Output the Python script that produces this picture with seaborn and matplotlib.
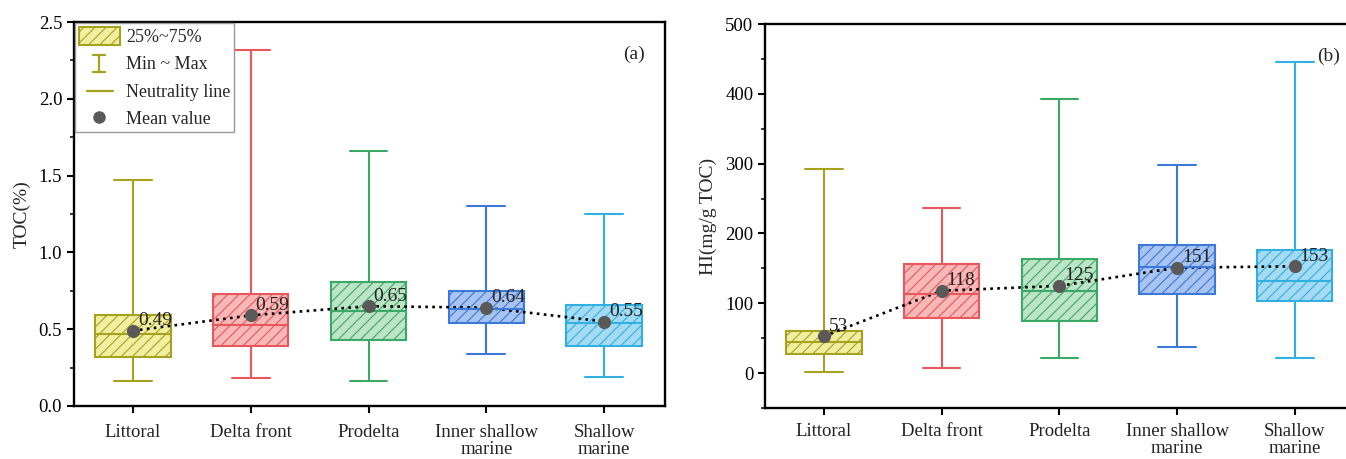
import numpy as np
import pandas as pd
import matplotlib
matplotlib.use("Agg")
import matplotlib.pyplot as plt
import seaborn as sns
from matplotlib.patches import Patch
from matplotlib.lines import Line2D
from matplotlib.legend_handler import HandlerBase
from matplotlib.ticker import MultipleLocator

# ---- data -------------------------------------------------------------
categories = ["Littoral", "Delta front", "Prodelta", "Inner shallow\nmarine", "Shallow\nmarine"]

toc_min = [0.16, 0.18, 0.16, 0.34, 0.19]
toc_q1 = [0.32, 0.39, 0.43, 0.54, 0.39]
toc_median = [0.47, 0.53, 0.62, 0.63, 0.54]
toc_q3 = [0.59, 0.73, 0.81, 0.75, 0.66]
toc_max = [1.47, 2.32, 1.66, 1.30, 1.25]
toc_mean = [0.49, 0.59, 0.65, 0.64, 0.55]

hi_min = [2, 7, 21, 38, 22]
hi_q1 = [27, 79, 75, 113, 103]
hi_median = [45, 114, 118, 152, 132]
hi_q3 = [61, 156, 163, 184, 176]
hi_max = [293, 237, 392, 298, 446]
hi_mean = [53, 118, 125, 151, 153]

edge_colors = ["#a6a21e", "#e8575b", "#3aa965", "#3a79d8", "#31afe0"]
fill_colors = ["#f1eea2", "#f8b8b8", "#bde4c7", "#a8c3f0", "#a4dbf3"]

sns.set_theme(style="ticks")
plt.rcParams["font.family"] = ["Liberation Serif", "DejaVu Serif"]
plt.rcParams["hatch.linewidth"] = 0.8
plt.rcParams["axes.linewidth"] = 1.6


def five_number_frame(mins, q1s, meds, q3s, maxs):
    # five sorted values per group: their 0/25/50/75/100 percentiles are the box statistics
    rows = []
    for cat, a, b, c, d, e in zip(categories, mins, q1s, meds, q3s, maxs):
        for v in (a, b, c, d, e):
            rows.append({"category": cat, "value": v})
    return pd.DataFrame(rows)


class MinMaxHandler(HandlerBase):
    def create_artists(self, legend, orig_handle, xdescent, ydescent,
                       width, height, fontsize, trans):
        cx = width / 2 - xdescent
        y0 = -ydescent + height * 0.02
        y1 = -ydescent + height * 0.92
        hw = width * 0.14
        col = orig_handle.get_color()
        kw = dict(color=col, lw=1.6, transform=trans)
        return [Line2D([cx, cx], [y0, y1], **kw),
                Line2D([cx - hw, cx + hw], [y0, y0], **kw),
                Line2D([cx - hw, cx + hw], [y1, y1], **kw)]


class ShortLineHandler(HandlerBase):
    def create_artists(self, legend, orig_handle, xdescent, ydescent,
                       width, height, fontsize, trans):
        cy = height / 2 - ydescent
        return [Line2D([width * 0.2 - xdescent, width * 0.82 - xdescent], [cy, cy],
                       color=orig_handle.get_color(), lw=1.6, transform=trans)]


def draw_panel(ax, mins, q1s, meds, q3s, maxs, means, fmt, xpad):
    df = five_number_frame(mins, q1s, meds, q3s, maxs)
    for cat, fc, ec in zip(categories, fill_colors, edge_colors):
        sub = df[df["category"] == cat]
        sns.boxplot(data=sub, x="category", y="value", order=categories,
                    color=fc, linecolor=ec, saturation=1, width=0.64,
                    whis=(0, 100), linewidth=1.5, showfliers=False, ax=ax,
                    boxprops=dict(hatch="///"))
    for patch, ec in zip(ax.patches, edge_colors):
        patch.set_edgecolor(ec)
        try:
            patch.set_hatchcolor(ec)
        except AttributeError:
            pass
    # dotted line joining the group means, then the mean markers
    sns.pointplot(x=categories, y=means, order=categories, color="black",
                  linestyles=":", markers="none", errorbar=None, ax=ax,
                  linewidth=1.9)
    sns.stripplot(x=categories, y=means, order=categories, color="#595959",
                  jitter=False, size=9.5, ax=ax, zorder=6)
    for i, m in enumerate(means):
        ax.annotate(fmt.format(m), xy=(i, m), xytext=(3.5, 4),
                    textcoords="offset points", fontsize=14,
                    ha="left", va="baseline", color="#222222", zorder=7)
    ax.set_xlim(-0.5, 4.52)
    ax.set_xlabel("")
    for s in ax.spines.values():
        s.set_visible(True)
        s.set_color("black")
        s.set_linewidth(1.7)
    ax.tick_params(axis="both", which="major", direction="out", length=5,
                   width=1.5, labelsize=13.5, colors="black")
    ax.tick_params(axis="x", pad=xpad)
    ax.tick_params(axis="y", which="minor", direction="out", length=3, width=1.3)
    ax.tick_params(axis="x", labelcolor="#222222")
    for lab in ax.get_xticklabels():
        lab.set_linespacing(1.0)


fig = plt.figure(figsize=(13.46, 4.59), dpi=100)
ax1 = fig.add_axes([0.055, 0.1155, 0.4393, 0.8365])
ax2 = fig.add_axes([0.5684, 0.111, 0.439, 0.8367])

draw_panel(ax1, toc_min, toc_q1, toc_median, toc_q3, toc_max, toc_mean, "{:.2f}", 8)
ax1.set_ylim(0, 2.5)
ax1.yaxis.set_major_locator(MultipleLocator(0.5))
ax1.yaxis.set_minor_locator(MultipleLocator(0.25))
ax1.set_ylabel("TOC(%)", fontsize=14, labelpad=6)
ax1.text(0.965, 0.905, "(a)", transform=ax1.transAxes, fontsize=14,
         ha="right", va="baseline")

draw_panel(ax2, hi_min, hi_q1, hi_median, hi_q3, hi_max, hi_mean, "{:.0f}", 6)
ax2.set_ylim(-50, 500)
ax2.set_yticks([0, 100, 200, 300, 400, 500])
ax2.yaxis.set_minor_locator(MultipleLocator(50))
ax2.set_ylabel("HI(mg/g TOC)", fontsize=14, labelpad=6)
ax2.text(0.973, 0.905, "(b)", transform=ax2.transAxes, fontsize=14,
         ha="right", va="baseline")

olive = edge_colors[0]
handles = [
    Patch(facecolor=fill_colors[0], edgecolor=olive, hatch="///", linewidth=1.5),
    Line2D([], [], color=olive),
    Line2D([], [], color=olive),
    Line2D([], [], linestyle="none", marker="o", markersize=8,
           color="#595959"),
]
labels = ["25%~75%", "Min ~ Max", "Neutrality line", "Mean value"]
leg = ax1.legend(handles, labels, loc="upper left", borderaxespad=0.05,
                 fontsize=13, frameon=True, fancybox=False,
                 edgecolor="#999999", framealpha=1, handlelength=2.3,
                 handleheight=1.2, labelspacing=0.45, borderpad=0.2,
                 handletextpad=0.35,
                 handler_map={handles[1]: MinMaxHandler(),
                              handles[2]: ShortLineHandler()})
leg.get_frame().set_linewidth(1.0)

fig.savefig("out.png", dpi=100)
